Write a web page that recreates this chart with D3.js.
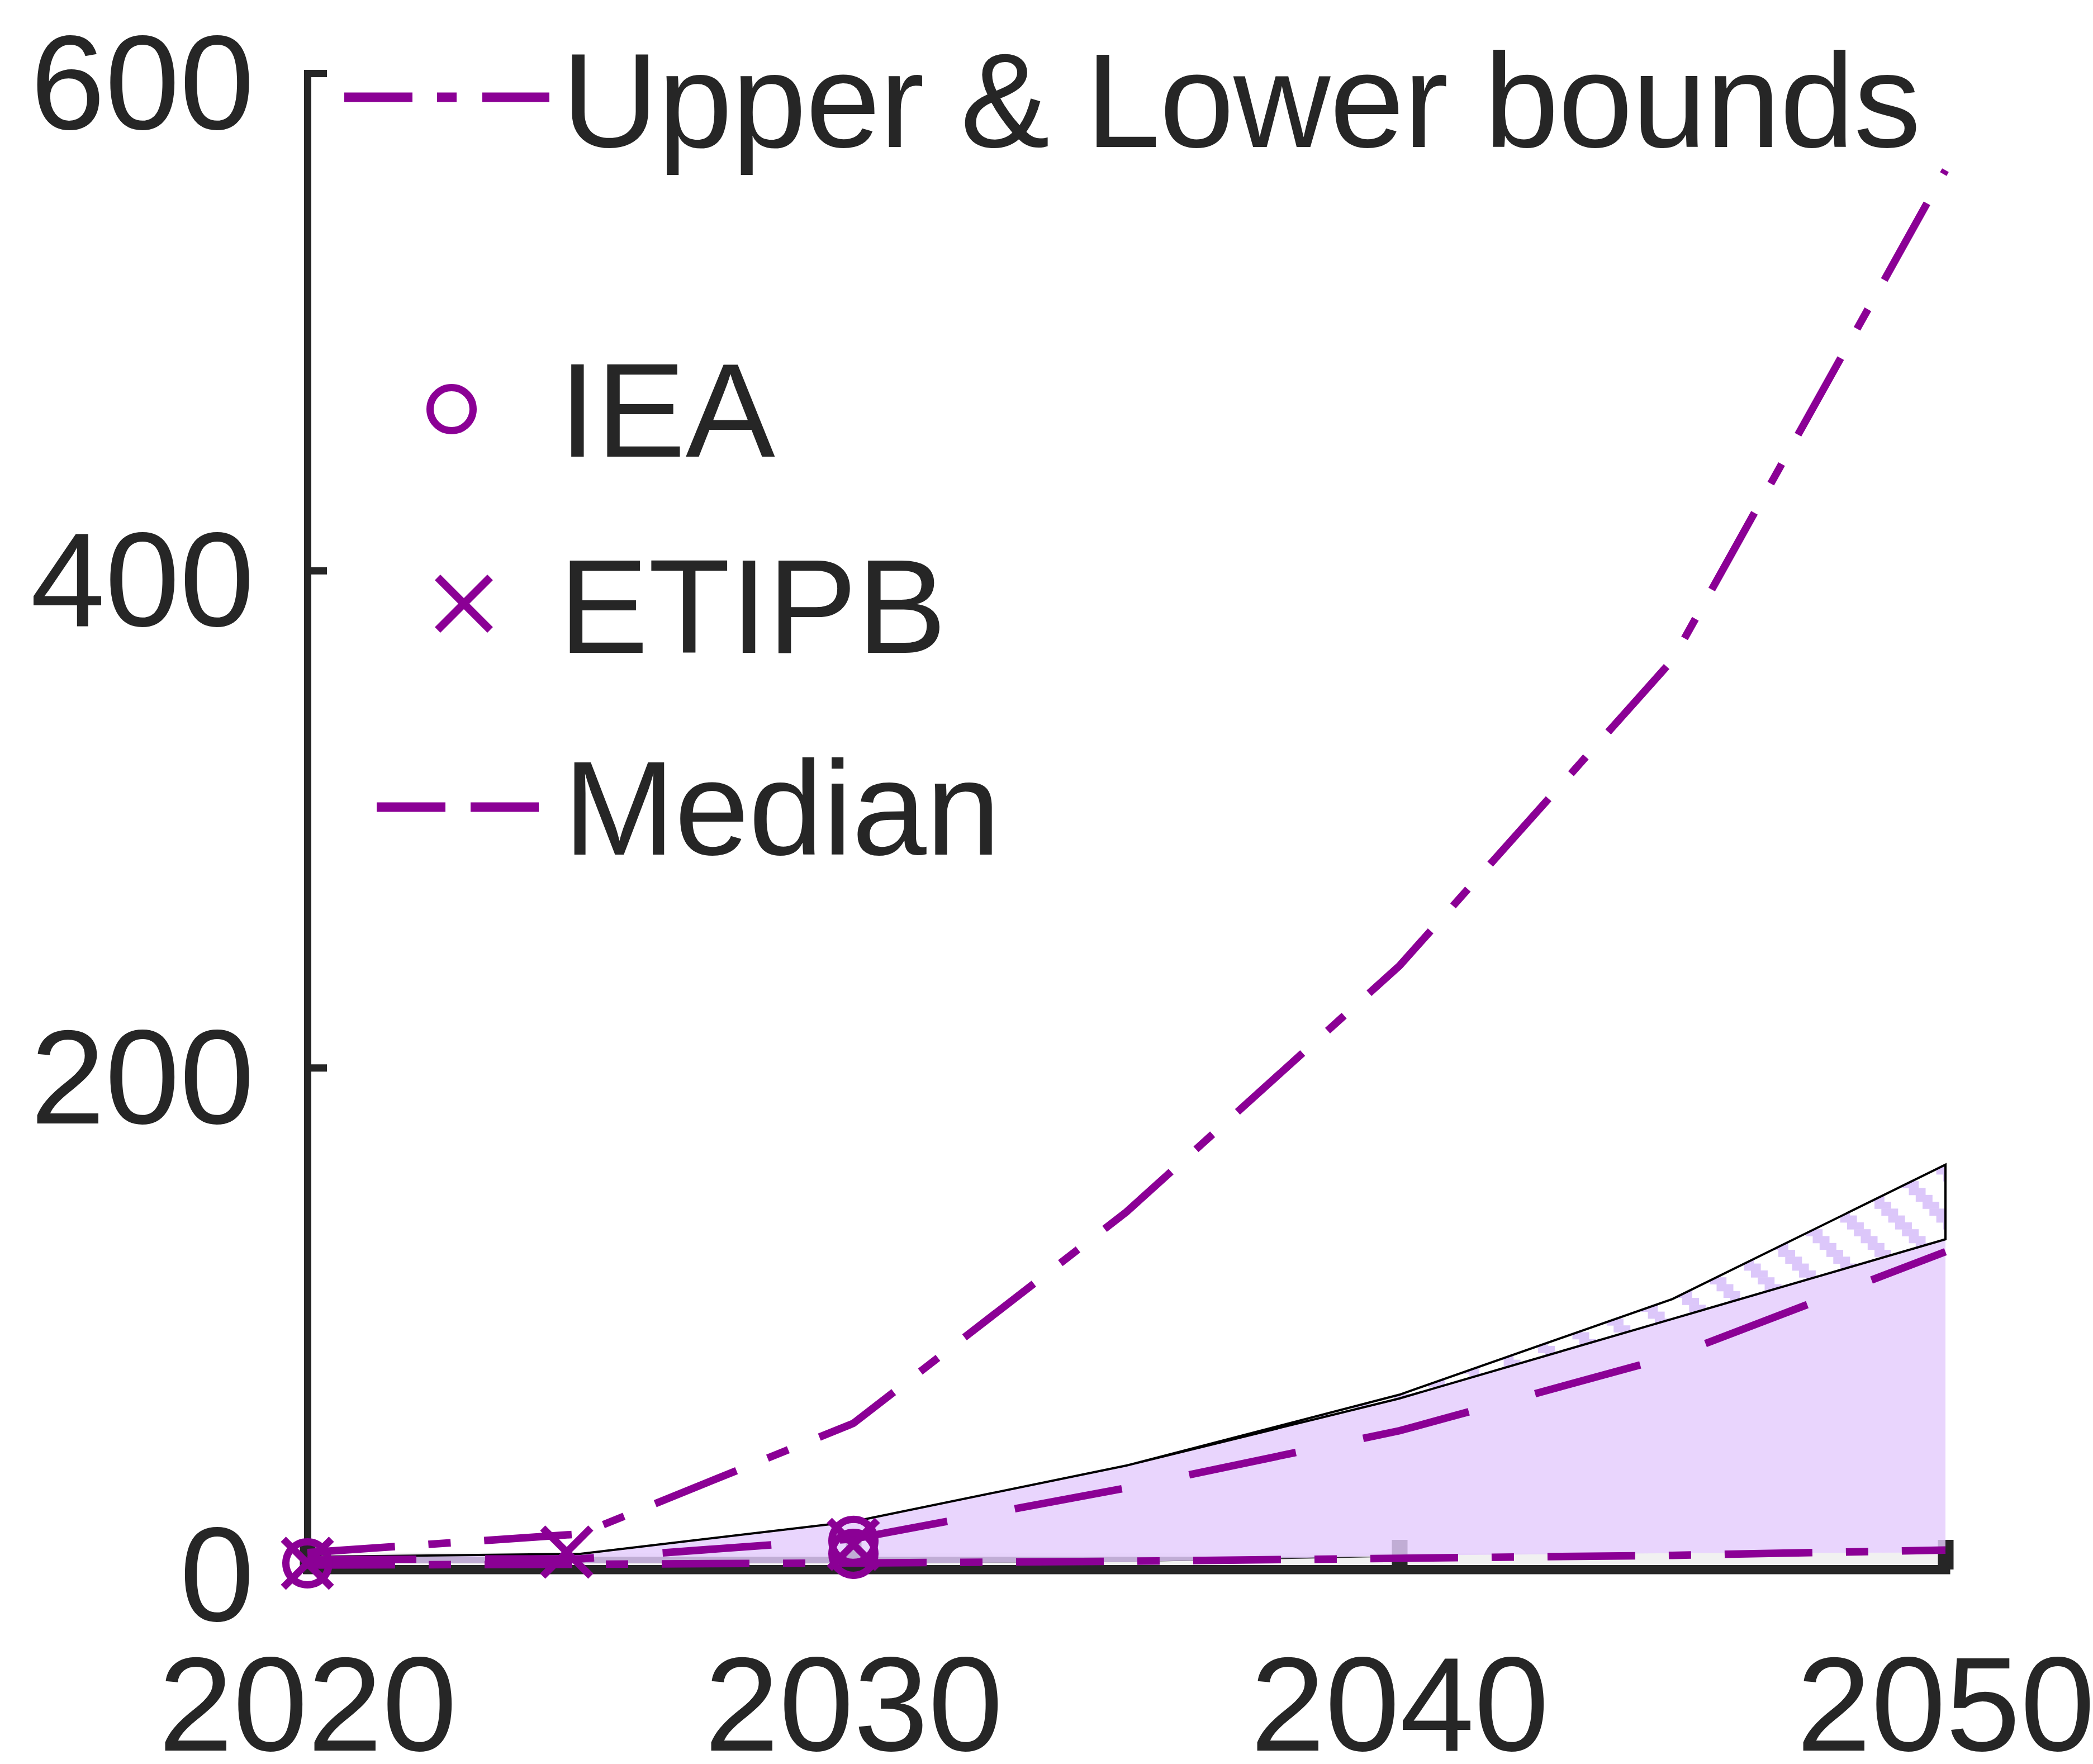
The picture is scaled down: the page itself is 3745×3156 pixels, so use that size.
<!DOCTYPE html>
<html>
<head>
<meta charset="utf-8">
<script src="https://cdn.jsdelivr.net/npm/d3@7/dist/d3.min.js"></script>
<style>
  html, body { margin: 0; padding: 0; background: #ffffff; }
  svg { display: block; }
  text { font-family: "Liberation Sans", Arial, Helvetica, sans-serif; fill: #262626; }
</style>
</head>
<body>
<script>
// ---------------- data ----------------
const years       = [2020, 2025, 2030, 2035, 2040, 2045, 2050];
const upperBound  = [5, 12.5, 57, 142, 241, 364, 561];
const lowerBound  = [0, 0.3, 0.8, 1.5, 2.7, 3.9, 6.0];
const median      = [2.2, 2.5, 10.5, 31, 54, 84, 126];
const fillTop     = [3.3, 4.5, 17.5, 40, 67, 99, 131];     // top of solid lavender band
const hatchTop    = [3.3, 4.5, 17.5, 40, 68.5, 107, 161];  // top of hatched band
const fillBottom  = [0.7, 0.7, 0.7, 1.2, 3.8, 4.8, 5.0];   // bottom of lavender band
const greyTop     = [5, 5, 5, 5, 5, 5, 5];                 // light grey base band
const shadeTop    = [3.3, 3.3, 3.3, 3.3, 3.3, 3.3, 3.3];   // darker base strip under lavender

const ieaYears    = [2020, 2030, 2030];
const ieaValues   = [0.7, 4.5, 9.7];
const etipbYears  = [2020, 2024.75, 2030];
const etipbValues = [0.7, 5.2, 8.3];

const xTicks = [2020, 2030, 2040, 2050];
const yTicks = [0, 200, 400, 600];

const legendLabels = ["Upper & Lower bounds", "IEA", "ETIPB", "Median"];

// ---------------- setup ----------------
const W = 3745, H = 3156;
const PURPLE = "#8b0095";
const INK = "#262626";
const FONT = 240;
const LW = 13.5;

const svg = d3.select("body").append("svg")
  .attr("width", W).attr("height", H)
  .attr("viewBox", `0 0 ${W} ${H}`);
svg.append("rect").attr("width", W).attr("height", H).attr("fill", "#ffffff");

const x = d3.scaleLinear().domain([2020, 2050]).range([550, 3481]);
const y = d3.scaleLinear().domain([0, 600]).range([2800, 131]);
const xAxisY = 2808;

const rows = years.map((yr, i) => ({
  year: yr, upper: upperBound[i], lower: lowerBound[i], median: median[i],
  fTop: fillTop[i], hTop: hatchTop[i], fBot: fillBottom[i],
  gTop: greyTop[i], sTop: shadeTop[i]
}));

// hatch pattern (stair-stepped diagonal stripes)
const defs = svg.append("defs");
const tile = 86, step = 12.3;
const pat = defs.append("pattern").attr("id", "hatch")
  .attr("patternUnits", "userSpaceOnUse")
  .attr("width", tile).attr("height", tile);
for (let i = 0; i < 7; i++) {
  [0, -tile].forEach(off => {
    pat.append("rect").attr("x", i * step + off).attr("y", i * step)
      .attr("width", 30).attr("height", step + 0.5).attr("fill", "#dcc7fa");
  });
}

// light grey base band
svg.append("path").datum(rows)
  .attr("d", d3.area().x(d => x(d.year)).y0(y(0)).y1(d => y(d.gTop)))
  .attr("fill", "#f1f1f1");

// x axis (ticks sit beneath the filled bands)
const xAxis = d3.axisBottom(x).tickValues(xTicks).tickSize(-53).tickSizeOuter(0)
  .tickFormat(d3.format("d"));
const gx = svg.append("g").attr("transform", `translate(0,${xAxisY})`).call(xAxis);
gx.select(".domain").attr("stroke", INK).attr("stroke-width", 16).attr("stroke-linecap", "square");
gx.selectAll(".tick line").attr("stroke", INK).attr("stroke-width", 28);
gx.selectAll(".tick text").attr("y", 324).attr("dy", null)
  .attr("font-size", FONT).attr("fill", INK).style("font-family", '"Liberation Sans", Arial, sans-serif');

// darker strip under lavender
svg.append("path").datum(rows)
  .attr("d", d3.area().x(d => x(d.year))
    .y0(d => y(Math.min(d.fBot, d.sTop))).y1(d => y(d.sTop)))
  .attr("fill", INK);

// lavender band
svg.append("path").datum(rows)
  .attr("d", d3.area().x(d => x(d.year)).y0(d => y(d.fBot)).y1(d => y(d.fTop)))
  .attr("fill", "#e4ccfc").attr("fill-opacity", 0.82);

// hatched band
svg.append("path").datum(rows)
  .attr("d", d3.area().x(d => x(d.year)).y0(d => y(d.fTop)).y1(d => y(d.hTop)))
  .attr("fill", "url(#hatch)");
const outline = rows.map(d => [x(d.year), y(d.hTop)])
  .concat(rows.slice().reverse().map(d => [x(d.year), y(d.fTop)]));
svg.append("path")
  .attr("d", d3.line()(outline) + "Z")
  .attr("fill", "none").attr("stroke", "#000").attr("stroke-width", 4)
  .attr("stroke-linejoin", "miter");

// y axis
const yAxis = d3.axisLeft(y).tickValues(yTicks).tickSize(-35).tickSizeOuter(0)
  .tickFormat(d3.format("d"));
const gy = svg.append("g").attr("transform", "translate(550,0)").call(yAxis);
gy.select(".domain").attr("stroke", INK).attr("stroke-width", 13).attr("stroke-linecap", "square");
gy.selectAll(".tick line").attr("stroke", INK).attr("stroke-width", 13);
gy.selectAll(".tick text").attr("x", -95).attr("y", 99).attr("dy", null)
  .attr("font-size", FONT).attr("fill", INK).style("font-family", '"Liberation Sans", Arial, sans-serif');

// redraw x-axis baseline over everything filled
svg.append("path")
  .attr("d", `M${x(2020)},${xAxisY}H${x(2050)}`)
  .attr("stroke", INK).attr("stroke-width", 16).attr("stroke-linecap", "square");

// data lines
const lineOf = key => d3.line().x(d => x(d.year)).y(d => y(d[key]))(rows);
svg.append("path").attr("d", lineOf("lower"))
  .attr("fill", "none").attr("stroke", PURPLE).attr("stroke-width", LW)
  .attr("stroke-dasharray", "157,60,40,60");
svg.append("path").attr("d", lineOf("median"))
  .attr("fill", "none").attr("stroke", PURPLE).attr("stroke-width", LW)
  .attr("stroke-dasharray", "195,123");
svg.append("path").attr("d", lineOf("upper"))
  .attr("fill", "none").attr("stroke", PURPLE).attr("stroke-width", LW)
  .attr("stroke-dasharray", "157,60,40,60");

// markers
function drawCircle(g, cx, cy, r, sw) {
  g.append("circle").attr("cx", cx).attr("cy", cy).attr("r", r)
    .attr("fill", "none").attr("stroke", PURPLE).attr("stroke-width", sw);
}
function drawCross(g, cx, cy, h, sw) {
  g.append("path")
    .attr("d", `M${cx - h},${cy - h}L${cx + h},${cy + h}M${cx - h},${cy + h}L${cx + h},${cy - h}`)
    .attr("fill", "none").attr("stroke", PURPLE).attr("stroke-width", sw);
}
const gm = svg.append("g");
ieaYears.forEach((yr, i) => drawCircle(gm, x(yr), y(ieaValues[i]), 38.5, 13));
etipbYears.forEach((yr, i) => drawCross(gm, x(yr), y(etipbValues[i]), 43, 13));

// legend
const lg = svg.append("g");
lg.append("line").attr("x1", 616).attr("x2", 983).attr("y1", 174).attr("y2", 174)
  .attr("stroke", PURPLE).attr("stroke-width", 17).attr("stroke-dasharray", "122,44,35,46");
lg.append("text").attr("x", 1005).attr("y", 263).attr("font-size", FONT)
  .attr("letter-spacing", -1.2).text(legendLabels[0]);

drawCircle(lg, 808, 732, 38.5, 13);
lg.append("text").attr("x", 1000).attr("y", 817).attr("font-size", FONT).text(legendLabels[1]);

drawCross(lg, 830, 1080, 47, 14);
lg.append("text").attr("x", 1000).attr("y", 1168).attr("font-size", FONT).text(legendLabels[2]);

lg.append("line").attr("x1", 674).attr("x2", 964).attr("y1", 1444).attr("y2", 1444)
  .attr("stroke", PURPLE).attr("stroke-width", 17).attr("stroke-dasharray", "123,45");
lg.append("text").attr("x", 1008).attr("y", 1529).attr("font-size", FONT)
  .attr("letter-spacing", -1).text(legendLabels[3]);
</script>
</body>
</html>
